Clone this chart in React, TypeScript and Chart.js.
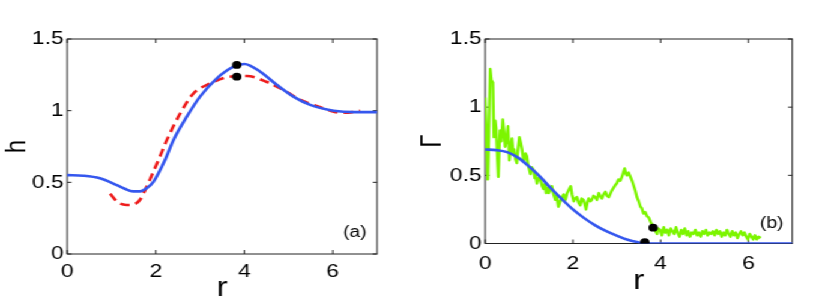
import React, { useEffect, useRef } from 'react';
import { Chart, registerables } from 'chart.js';

Chart.register(...registerables);

// ---------- data ----------
const xTicks = [0, 2, 4, 6];
const yTicks = [0, 0.5, 1, 1.5];

// panel (a): h(r)
const hBlueR = [0, 0.36, 0.74, 1.12, 1.3, 1.49, 1.64, 1.8, 1.95, 2.2, 2.4, 2.7, 3.0, 3.38, 3.76, 4.0, 4.36, 4.74, 5.11, 5.49, 6.02, 6.5, 7];
const hBlueH = [0.55, 0.546, 0.528, 0.48, 0.455, 0.437, 0.437, 0.46, 0.505, 0.65, 0.796, 0.958, 1.098, 1.226, 1.307, 1.326, 1.272, 1.179, 1.098, 1.04, 1.0, 0.99, 0.99];
const hRedR = [0.97, 1.15, 1.34, 1.5, 1.64, 1.78, 1.91, 2.08, 2.25, 2.55, 2.85, 3.23, 3.61, 4.06, 4.51, 4.89, 5.27, 5.72, 6.02, 6.25, 6.45, 6.62];
const hRedH = [0.42, 0.36, 0.342, 0.345, 0.377, 0.46, 0.55, 0.67, 0.796, 0.98, 1.12, 1.19, 1.233, 1.242, 1.2, 1.144, 1.075, 1.024, 0.993, 0.986, 0.99, 1.0];
const hDotsR = [3.83, 3.83];
const hDotsH = [1.319, 1.237];

// panel (b): Gamma(r)
const gBlueR = [0, 0.25, 0.5, 0.75, 1.0, 1.25, 1.5, 1.75, 2.0, 2.25, 2.5, 2.75, 3.0, 3.25, 3.5, 3.65, 4.0, 7];
const gBlueG = [0.69, 0.685, 0.67, 0.63, 0.565, 0.49, 0.405, 0.325, 0.25, 0.188, 0.135, 0.092, 0.058, 0.027, 0.008, 0.0, 0.0, 0.0];
const gGreenR = [
  0.0, 0.03, 0.06, 0.09, 0.115, 0.14, 0.175, 0.2, 0.23, 0.25, 0.28, 0.3, 0.32, 0.34, 0.37, 0.4, 0.43, 0.456, 0.49, 0.52,
  0.55, 0.58, 0.61, 0.64, 0.66, 0.69, 0.72, 0.75, 0.78, 0.81, 0.84, 0.87, 0.89, 0.92, 0.95, 0.98, 1.0, 1.03, 1.06, 1.1,
  1.13, 1.15, 1.18, 1.22, 1.26, 1.3, 1.33, 1.36, 1.39, 1.42, 1.45, 1.48, 1.52, 1.56, 1.6, 1.63, 1.67, 1.71, 1.75, 1.79,
  1.83, 1.87, 1.9, 1.95, 1.98, 2.02, 2.05, 2.09, 2.13, 2.17, 2.2, 2.24, 2.27, 2.3, 2.33, 2.36, 2.4, 2.43, 2.47, 2.51,
  2.55, 2.59, 2.62, 2.66, 2.7, 2.74, 2.78, 2.82, 2.86, 2.89, 2.93, 2.97, 3.0, 3.04, 3.08, 3.12, 3.15, 3.18, 3.21, 3.23,
  3.27, 3.31, 3.35, 3.39, 3.42, 3.46, 3.5, 3.54, 3.57, 3.61, 3.65, 3.69, 3.73, 3.77, 3.8, 3.83, 3.87, 3.92, 3.95, 3.99,
  4.03, 4.07, 4.11, 4.15, 4.19, 4.23, 4.27, 4.31, 4.35, 4.39, 4.43, 4.47, 4.51, 4.55, 4.59, 4.63, 4.67, 4.71, 4.75, 4.79,
  4.83, 4.87, 4.91, 4.95, 4.99, 5.03, 5.07, 5.11, 5.15, 5.19, 5.23, 5.27, 5.31, 5.35, 5.39, 5.43, 5.47, 5.51, 5.55, 5.59,
  5.63, 5.67, 5.71, 5.75, 5.79, 5.83, 5.87, 5.91, 5.95, 5.99, 6.03, 6.07, 6.11, 6.15, 6.19, 6.23, 6.28,
];
const gGreenG = [
  1.07, 0.8, 0.47, 0.9, 1.28, 1.2, 1.18, 0.78, 0.9, 0.84, 0.62, 0.49, 0.7, 0.83, 0.75, 0.91, 0.82, 0.71, 0.78, 0.86,
  0.61, 0.7, 0.77, 0.66, 0.69, 0.62, 0.59, 0.7, 0.78, 0.74, 0.69, 0.62, 0.61, 0.66, 0.64, 0.57, 0.55, 0.51, 0.56, 0.54,
  0.48, 0.5, 0.44, 0.48, 0.47, 0.42, 0.4, 0.44, 0.37, 0.41, 0.37, 0.39, 0.42, 0.36, 0.32, 0.35, 0.27, 0.31, 0.34, 0.36,
  0.32, 0.37, 0.39, 0.42, 0.36, 0.31, 0.33, 0.34, 0.3, 0.28, 0.33, 0.32, 0.29, 0.25, 0.3, 0.33, 0.31, 0.32, 0.35, 0.34,
  0.32, 0.37, 0.35, 0.33, 0.36, 0.38, 0.35, 0.34, 0.37, 0.39, 0.41, 0.43, 0.44, 0.47, 0.46, 0.49, 0.52, 0.55, 0.51, 0.5,
  0.52, 0.49, 0.46, 0.42, 0.39, 0.34, 0.31, 0.27, 0.26, 0.22, 0.23, 0.2, 0.19, 0.16, 0.14, 0.12, 0.1, 0.07, 0.11, 0.1,
  0.06, 0.12, 0.08, 0.1, 0.06, 0.11, 0.09, 0.07, 0.12, 0.08, 0.05, 0.1, 0.07, 0.11, 0.06, 0.09, 0.05, 0.08, 0.07, 0.1,
  0.06, 0.08, 0.05, 0.09, 0.07, 0.1, 0.06, 0.08, 0.07, 0.09, 0.06, 0.1, 0.07, 0.09, 0.05, 0.08, 0.06, 0.1, 0.07, 0.05,
  0.09, 0.06, 0.08, 0.04, 0.07, 0.09, 0.06, 0.08, 0.05, 0.03, 0.07, 0.05, 0.03, 0.06, 0.03, 0.05, 0.04,
];
const gDotsR = [3.64, 3.83];
const gDotsG = [0.01, 0.116];

// ---------- style ----------
const FONT = "'Liberation Sans', Arial, Helvetica, sans-serif";
const BLUE = '#3557ee';
const RED = '#ee1c1c';
const GREEN = '#7cf500';
const CANVAS_W = 346;
const CANVAS_H = 307;
const STRETCH = 831 / (CANVAS_W * 2);

const toPts = (xs: number[], ys: number[]) => xs.map((x, i) => ({ x, y: ys[i] }));

const framePlugin = {
  id: 'frame',
  beforeDatasetsDraw(chart: any) {
    const { ctx, chartArea: a, scales } = chart;
    ctx.save();
    ctx.strokeStyle = '#222';
    ctx.lineWidth = 1;
    ctx.strokeRect(a.left, a.top, a.right - a.left, a.bottom - a.top);
    ctx.beginPath();
    for (const v of xTicks) {
      const p = scales.x.getPixelForValue(v);
      ctx.moveTo(p, a.bottom);
      ctx.lineTo(p, a.bottom - 4);
      ctx.moveTo(p, a.top);
      ctx.lineTo(p, a.top + 4);
    }
    for (const v of yTicks) {
      const p = scales.y.getPixelForValue(v);
      ctx.moveTo(a.left, p);
      ctx.lineTo(a.left + 3.5, p);
      ctx.moveTo(a.right, p);
      ctx.lineTo(a.right - 3.5, p);
    }
    ctx.stroke();
    ctx.restore();
  },
  afterDraw(chart: any, _args: any, opts: any) {
    if (!opts || !opts.text) return;
    const { ctx, scales } = chart;
    ctx.save();
    ctx.fillStyle = '#000';
    ctx.font = `16px ${FONT}`;
    ctx.textAlign = 'center';
    ctx.textBaseline = 'middle';
    ctx.fillText(opts.text, scales.x.getPixelForValue(opts.x), scales.y.getPixelForValue(opts.y));
    ctx.restore();
  },
};

function makeScales(p: { xH: number; yW: number; xPad: number; xTitlePad: number; yTitle: string }) {
  return {
    x: {
      type: 'linear',
      min: 0,
      max: 7,
      afterBuildTicks: (s: any) => {
        s.ticks = xTicks.map((value) => ({ value }));
      },
      afterFit: (s: any) => {
        s.height = p.xH;
      },
      grid: { display: false, drawTicks: false },
      border: { display: false },
      ticks: {
        color: '#000',
        font: { family: FONT, size: 19, lineHeight: 1.2 },
        padding: p.xPad,
        maxRotation: 0,
        autoSkip: false,
        callback: (v: any) => String(v),
      },
      title: {
        display: true,
        text: 'r',
        color: '#000',
        font: { family: FONT, size: 28, lineHeight: 1.2 },
        padding: { top: 0, bottom: p.xTitlePad },
      },
    },
    y: {
      type: 'linear',
      min: 0,
      max: 1.5,
      afterBuildTicks: (s: any) => {
        s.ticks = yTicks.map((value) => ({ value }));
      },
      afterFit: (s: any) => {
        s.width = p.yW;
      },
      grid: { display: false, drawTicks: false },
      border: { display: false },
      ticks: {
        color: '#000',
        font: { family: FONT, size: 19, lineHeight: 1.2 },
        padding: 3,
        autoSkip: false,
        callback: (v: any) => String(v),
      },
      title: {
        display: true,
        text: p.yTitle,
        color: '#000',
        font: { family: FONT, size: 24, lineHeight: 1.2 },
        padding: { top: 0, bottom: 0 },
      },
    },
  };
}

function baseOptions(extra: any) {
  return {
    responsive: false,
    animation: false,
    devicePixelRatio: 1,
    events: [],
    plugins: { legend: { display: false }, tooltip: { enabled: false }, frame: extra.frame },
    layout: { padding: extra.padding },
    scales: extra.scales,
  };
}

function leftConfig(): any {
  return {
    type: 'line',
    data: {
      datasets: [
        { data: toPts(hDotsR, hDotsH), showLine: false, pointRadius: 3.9, pointBackgroundColor: '#000', pointBorderWidth: 0 },
        { data: toPts(hBlueR, hBlueH), borderColor: BLUE, borderWidth: 2.6, pointRadius: 0, cubicInterpolationMode: 'monotone' },
        { data: toPts(hRedR, hRedH), borderColor: RED, borderWidth: 2.6, borderDash: [8, 5], pointRadius: 0, cubicInterpolationMode: 'monotone' },
      ],
    },
    options: baseOptions({
      frame: { text: '(a)', x: 6.5, y: 0.147 },
      padding: { top: 39, right: 32, bottom: 0, left: 0 },
      scales: makeScales({ xH: 53, yW: 56, xPad: 6.5, xTitlePad: 2.4, yTitle: 'h' }),
    }),
    plugins: [framePlugin],
  };
}

function rightConfig(): any {
  return {
    type: 'line',
    data: {
      datasets: [
        { data: toPts(gDotsR, gDotsG), showLine: false, pointRadius: 3.9, pointBackgroundColor: '#000', pointBorderWidth: 0 },
        { data: toPts(gBlueR, gBlueG), borderColor: BLUE, borderWidth: 2.6, pointRadius: 0, cubicInterpolationMode: 'monotone' },
        { data: toPts(gGreenR, gGreenG), borderColor: GREEN, borderWidth: 2.4, pointRadius: 0, tension: 0, borderJoinStyle: 'round' },
      ],
    },
    options: baseOptions({
      frame: { text: '(b)', x: 6.53, y: 0.143 },
      padding: { top: 39, right: 32.25, bottom: 0, left: 0 },
      scales: makeScales({ xH: 63.5, yW: 58, xPad: 8.5, xTitlePad: 8.7, yTitle: 'Γ' }),
    }),
    plugins: [framePlugin],
  };
}

function Panel({ make, left }: { make: () => any; left: number }) {
  const ref = useRef<HTMLCanvasElement | null>(null);
  useEffect(() => {
    if (!ref.current) return;
    const chart = new Chart(ref.current, make());
    return () => chart.destroy();
  }, [make]);
  return (
    <canvas
      ref={ref}
      width={CANVAS_W}
      height={CANVAS_H}
      style={{ position: 'absolute', left, top: 0, width: CANVAS_W, height: CANVAS_H }}
    />
  );
}

export default function App() {
  return (
    <div
      style={{
        position: 'fixed',
        left: 0,
        top: 0,
        width: CANVAS_W * 2,
        height: CANVAS_H,
        background: '#fff',
        transform: `scaleX(${STRETCH})`,
        transformOrigin: '0 0',
      }}
    >
      <Panel make={leftConfig} left={0} />
      <Panel make={rightConfig} left={CANVAS_W} />
    </div>
  );
}
